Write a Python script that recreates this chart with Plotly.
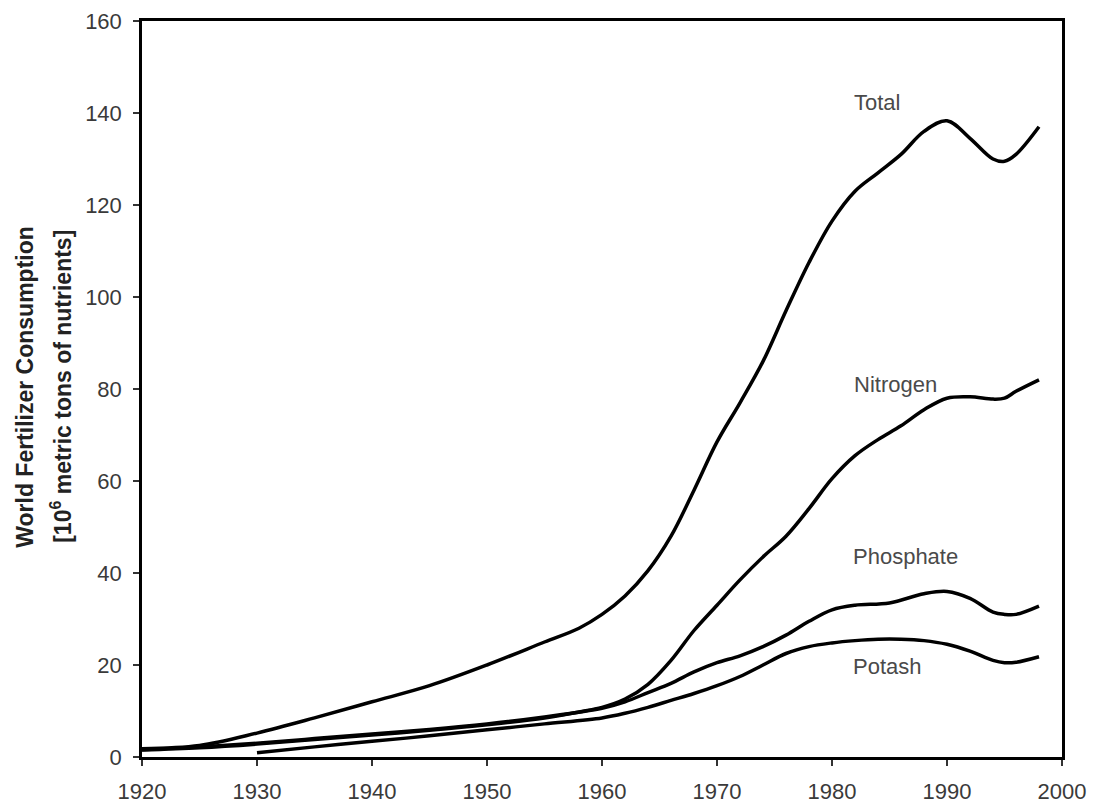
import plotly.graph_objects as go

# ---- data ----
total_years = [1920, 1925, 1930, 1935, 1940, 1945, 1950, 1955, 1958, 1960, 1962, 1964, 1966, 1968,
               1970, 1972, 1974, 1976, 1978, 1980, 1982, 1984, 1986, 1988, 1990, 1992, 1994, 1995, 1996, 1998]
total_vals = [1.8, 2.5, 5.2, 8.5, 12, 15.5, 20, 25, 28, 31, 35, 40.5, 48, 58,
              68.5, 77, 86, 97, 107.5, 116.5, 123, 127, 131, 136, 138.3, 134.5, 130, 129.5, 131, 137]

nitro_years = [1920, 1925, 1930, 1935, 1940, 1945, 1950, 1955, 1958, 1960, 1962, 1964, 1966, 1968,
               1970, 1972, 1974, 1976, 1978, 1980, 1982, 1984, 1986, 1988, 1990, 1992, 1994, 1995, 1996, 1998]
nitro_vals = [1.5, 2.0, 2.8, 3.8, 4.8, 5.8, 7.0, 8.5, 9.8, 10.8, 12.6, 15.8, 21, 27.5,
              33, 38.5, 43.5, 48, 54, 60.5, 65.5, 69, 72, 75.5, 78, 78.3, 77.8, 78, 79.5, 82]

phos_years = [1920, 1925, 1930, 1935, 1940, 1945, 1950, 1955, 1960, 1962, 1964, 1966, 1968,
              1970, 1972, 1974, 1976, 1978, 1980, 1982, 1985, 1988, 1990, 1992, 1994, 1995, 1996, 1998]
phos_vals = [1.6, 2.2, 3.0, 4.0, 5.0, 6.0, 7.2, 8.7, 10.6, 12, 14, 16, 18.5,
             20.5, 22, 24, 26.5, 29.5, 32, 33, 33.5, 35.5, 36, 34.5, 31.5, 31, 31, 32.8]

potash_years = [1930, 1935, 1940, 1945, 1950, 1955, 1960, 1962, 1964, 1966, 1968, 1970, 1972, 1974,
                1976, 1978, 1980, 1982, 1984, 1986, 1988, 1990, 1992, 1994, 1995, 1996, 1998]
potash_vals = [0.9, 2.2, 3.4, 4.6, 5.9, 7.2, 8.5, 9.5, 10.8, 12.3, 13.8, 15.5, 17.5, 20,
               22.5, 24, 24.8, 25.3, 25.6, 25.6, 25.3, 24.5, 23, 21, 20.5, 20.6, 21.8]

series = [
    ("Total", total_years, total_vals),
    ("Nitrogen", nitro_years, nitro_vals),
    ("Phosphate", phos_years, phos_vals),
    ("Potash", potash_years, potash_vals),
]

# label positions (data coords)
label_names = ["Total", "Nitrogen", "Phosphate", "Potash"]
label_x = [1983.9, 1985.5, 1986.4, 1984.8]
label_y = [142.2, 80.9, 43.5, 19.6]

x_ticks = list(range(1920, 2001, 10))
y_ticks = list(range(0, 161, 20))

FONT = "Liberation Sans, Arial, sans-serif"
fig = go.Figure()
for name, xs, ys in series:
    fig.add_trace(go.Scatter(x=xs, y=ys, mode="lines", name=name,
                             line=dict(color="black", width=3.5, shape="spline", smoothing=1.0),
                             showlegend=False))

for n, lx, ly in zip(label_names, label_x, label_y):
    fig.add_annotation(x=lx, y=ly, text=n, showarrow=False, xanchor="center", yanchor="middle",
                       font=dict(family=FONT, size=22, color="#4a4a4a"))

# y-axis title as two rotated lines
fig.add_annotation(xref="paper", yref="paper", x=0, y=0.503, xshift=-117,
                   text="<b>World Fertilizer Consumption</b>",
                   textangle=-90, showarrow=False, xanchor="center", yanchor="middle",
                   font=dict(family=FONT, size=23, color="#222222"))
fig.add_annotation(xref="paper", yref="paper", x=0, y=0.503, xshift=-81,
                   text="<b>[10<sup>6</sup> metric tons of nutrients]</b>",
                   textangle=-90, showarrow=False, xanchor="center", yanchor="middle",
                   font=dict(family=FONT, size=23, color="#222222"))

axis_common = dict(showgrid=False, zeroline=False, showline=True, linecolor="black", linewidth=2.5,
                   mirror=True, ticks="outside", ticklen=6, tickwidth=1.5, tickcolor="#333333",
                   automargin=False,
                   tickfont=dict(family=FONT, size=22, color="#3a3a3a"))

fig.update_xaxes(range=[1920, 2000], tickvals=x_ticks, ticktext=[str(v) for v in x_ticks],
                 ticklabelstandoff=7, **axis_common)
fig.update_yaxes(range=[0, 160], tickvals=y_ticks, ticktext=[str(v) for v in y_ticks],
                 ticklabelstandoff=7, **axis_common)

fig.update_layout(width=1087, height=797, margin=dict(l=134, r=33, t=13, b=48, autoexpand=False),
                  plot_bgcolor="white", paper_bgcolor="white", showlegend=False)

fig.write_html("out.html")
